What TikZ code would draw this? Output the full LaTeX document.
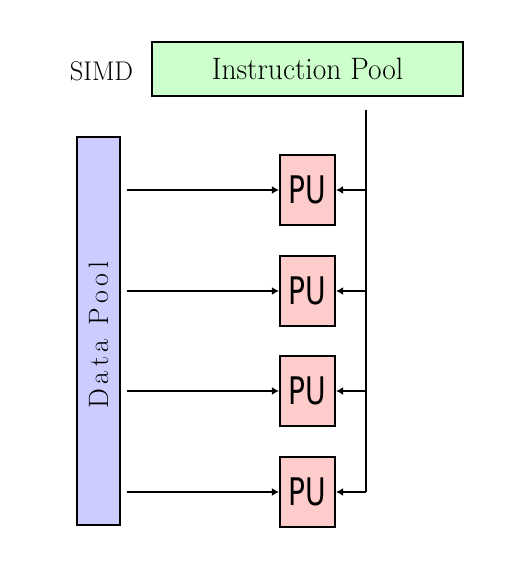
\documentclass[tikz,border=0pt]{standalone}
\usepackage{fontspec}
\usepackage{graphicx}
\newfontfamily\pufont{DejaVu Sans}
\usetikzlibrary{arrows.meta}
\definecolor{ipgreen}{RGB}{204,255,204}
\definecolor{dpblue}{RGB}{204,204,255}
\definecolor{pupink}{RGB}{255,204,204}
\begin{document}
\begin{tikzpicture}[x=1pt,y=-1pt,
  box/.style={draw=black,line width=2.2pt,inner sep=0pt},
  pubox/.style={box,fill=pupink,minimum width=55pt,minimum height=70pt,
    font=\pufont\fontsize{38}{40}\selectfont},
  arr/.style={line width=2pt,-{Latex[length=7pt,width=8pt]}},
  bus/.style={line width=2pt}]
\useasboundingbox (0,0) rectangle (507,585);
\fill[white] (0,0) rectangle (507,585);
\node[box,fill=ipgreen,minimum width=311pt,minimum height=54pt] (ip) at (307.5,69)
  {\fontsize{31}{34}\selectfont\scalebox{0.95}[1]{Instruction Pool}};
\node (simd) at (101.5,71) {\fontsize{27}{30}\selectfont\scalebox{0.98}[1]{SIMD}};
\node[box,fill=dpblue,minimum width=43pt,minimum height=388pt] (dp) at (98.5,331) {};
\node[rotate=90] (dpt) at (98.5,335) {\fontsize{28}{30}\selectfont D\kern4.5pt a\kern4.5pt t\kern4.5pt a\kern14pt P\kern4.5pt o\kern4.5pt o\kern4.5pt l};
\node[pubox] (pu1) at (307.5,190) {\scalebox{0.74}[1]{PU}};
\node[pubox] (pu2) at (307.5,291) {\scalebox{0.74}[1]{PU}};
\node[pubox] (pu3) at (307.5,391) {\scalebox{0.74}[1]{PU}};
\node[pubox] (pu4) at (307.5,492) {\scalebox{0.74}[1]{PU}};
\coordinate (bustop) at (366,110);
\coordinate (busbot) at (366,492);
\draw[bus] (bustop) -- (busbot);
\foreach \i in {1,2,3,4}{
  \draw[arr] ([xshift=6pt]dp.east |- pu\i.west) -- (pu\i.west);
  \draw[arr] (bustop |- pu\i.east) -- (pu\i.east);
}
\end{tikzpicture}
\end{document}
